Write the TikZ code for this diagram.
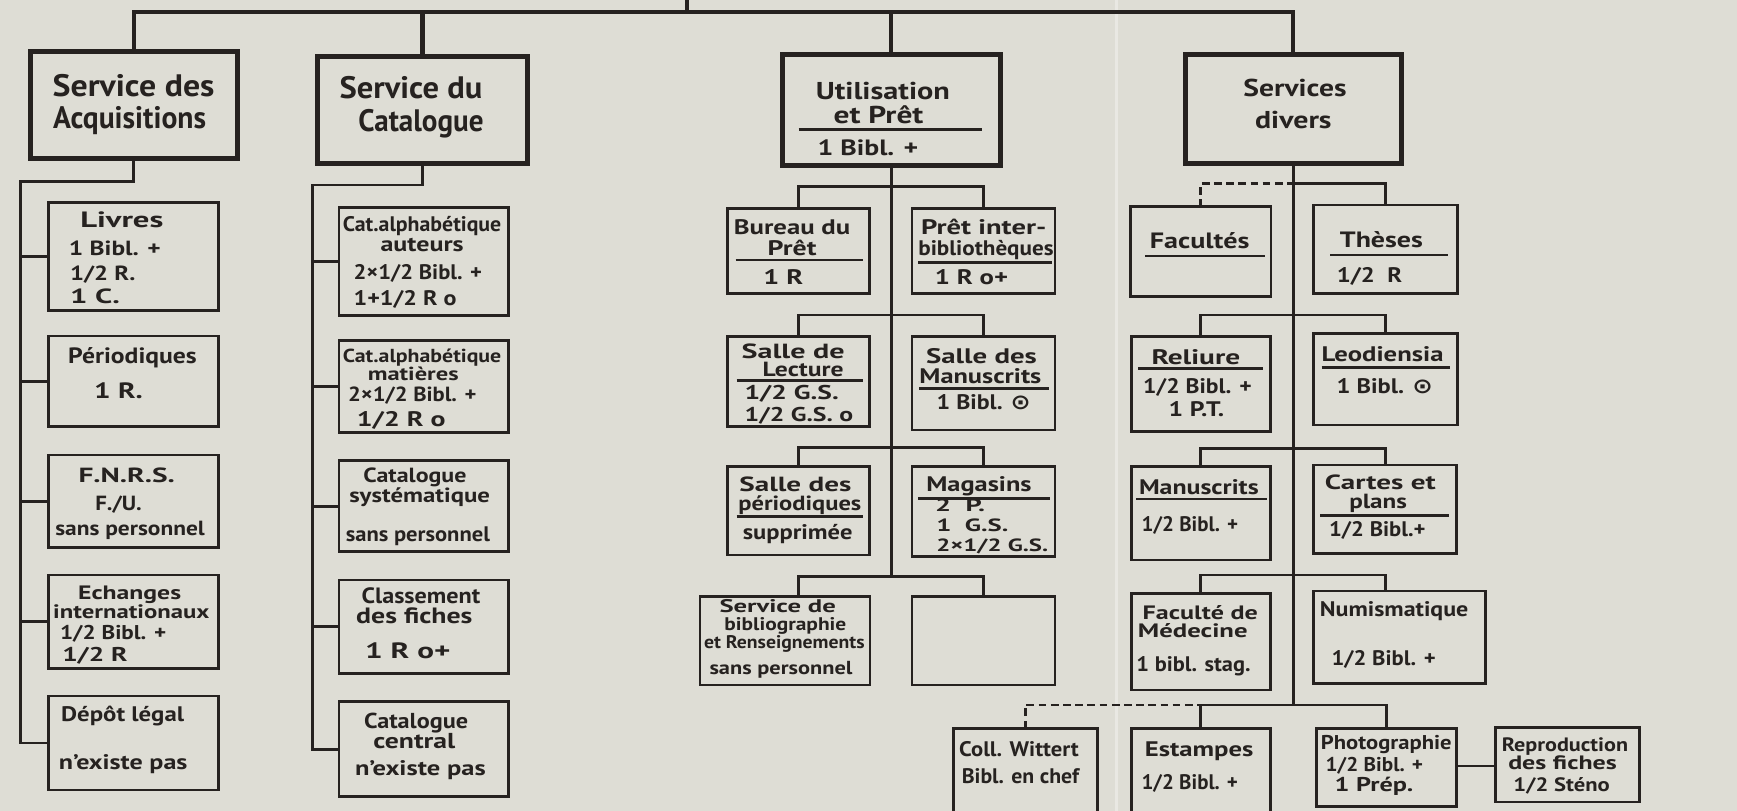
\documentclass[tikz,border=0pt]{standalone}
\usepackage{graphicx}
\usepackage{fontspec}
\setmainfont{PT Sans}
\newfontfamily\symfont{DejaVu Sans}
\definecolor{paper}{RGB}{222,221,213}
\definecolor{ink}{RGB}{38,34,32}
\newcommand\fs[1]{\fontsize{#1}{#1}\selectfont\bfseries}
\newcounter{tn}
% \tx[anchor style]{x,baseline y}{font size}{width}{text}
\newcommand\tx[5][tc]{\stepcounter{tn}\node[#1, font=\fs{#3}] (txt\arabic{tn}) at (#2) {\resizebox{#4pt}{\height}{#5}};}
\newcommand\sepl[3]{\draw[sepline] (#1,#3) -- (#2,#3);}
\newcommand\mybox[6][sbox]{\node[#1, minimum width={(#5-#3)*1pt}, minimum height={(#6-#4)*1pt}] (#2) at (#3,#4) {};}
\newcommand\cdotsym{{\symfont\bfseries ⊙}}
\tikzset{
  mainbox/.style={draw=ink, line width=4.5pt, inner sep=0pt, outer sep=0pt, anchor=north west},
  sbox/.style={draw=ink, line width=2.6pt, inner sep=0pt, outer sep=0pt, anchor=north west},
  conn/.style={draw=ink, line width=2.6pt, line join=miter},
  topline/.style={draw=ink, line width=3.8pt, line join=miter},
  dashconn/.style={conn, dash pattern=on 7pt off 4pt},
  sepline/.style={draw=ink, line width=2.2pt},
  tc/.style={anchor=base, inner sep=0pt, text=ink},
  tl/.style={anchor=base west, inner sep=0pt, text=ink},
}
\begin{document}
\begin{tikzpicture}[x=1pt,y=-1pt]
\fill[paper] (0,0) rectangle (1568,732);
\useasboundingbox (0,0) rectangle (1568,732);
\draw[white, opacity=0.35, line width=2.5pt] (1008,0) -- (1008,732);

% ---------- level 1 ----------
\mybox[mainbox]{acq}{27.4}{46.6}{214.4}{142.9}
\mybox[mainbox]{cat}{286.3}{50.6}{476.5}{147.4}
\mybox[mainbox]{util}{706.5}{49.6}{902.7}{149.8}
\mybox[mainbox]{div}{1069.7}{49.6}{1265.3}{147.4}

\coordinate (t0) at (620,0);
\coordinate (t1) at (620,10.5);
\draw[topline] (t0) -- (t1);
\draw[topline] (acq.north) |- (t1) -| (div.north);
\draw[topline] (cat.north) -- (cat.north |- t1);
\draw[topline] (util.north) -- (util.north |- t1);

\tx{120.6,87.3}{28}{146}{Service des}
\tx{117,115.8}{28}{138}{Acquisitions}
\tx{371,88.8}{28}{129}{Service du}
\tx{380,118.9}{28}{113}{Catalogue}
\tx{797,90}{22}{121}{Utilisation}
\tx{793,111.3}{22}{81}{et Prêt}
\sepl{721}{886}{116.7}
\tx{783.5,140}{20}{91}{1 Bibl. +}
\tx{1169,87.3}{22}{93}{Services}
\tx{1167.5,115.8}{22}{69}{divers}

% ---------- Acquisitions ----------
\mybox{livres}{43.6}{183}{197}{280.5}
\mybox{perio}{43.6}{303.3}{197}{385.2}
\mybox{fnrs}{43.6}{410.7}{197}{494}
\mybox{echanges}{43.6}{519}{197}{603.3}
\mybox{depot}{43.6}{628.3}{197}{713.1}
\coordinate (a0) at (18.7,164);
\draw[conn] (acq.south) |- (a0) -- (a0 |- depot.west) -- (depot.west);
\draw[conn] (a0 |- livres.west) -- (livres.west);
\draw[conn] (a0 |- perio.west) -- (perio.west);
\draw[conn] (a0 |- fnrs.west) -- (fnrs.west);
\draw[conn] (a0 |- echanges.west) -- (echanges.west);

\tx{110,205}{20}{75}{Livres}
\tx[tl]{62,231}{18.5}{83}{1 Bibl. +}
\tx[tl]{63,253.3}{18.5}{59}{1/2 R.}
\tx[tl]{63,274.4}{18.5}{45}{1 C.}
\tx{119.6,328}{20}{116}{Périodiques}
\tx{107,359.6}{20}{44}{1 R.}
\tx{114.4,435.7}{18.5}{87}{F.N.R.S.}
\tx{107,461}{18.5}{42}{F./U.}
\tx{117.4,483}{18.5}{135}{sans personnel}
\tx{117,541}{17.5}{93}{Echanges}
\tx{118.5,558.2}{17.5}{141}{internationaux}
\tx[tl]{54,577.1}{18}{96}{1/2 Bibl. +}
\tx[tl]{56,597.3}{18}{59}{1/2 R}
\tx[tl]{55,651.4}{19}{111}{Dépôt légal}
\tx[tl]{53,695}{19}{116}{n'existe pas}

% ---------- Catalogue ----------
\mybox{auteurs}{306}{187}{459}{284.4}
\mybox{matieres}{306}{307.5}{459}{390.3}
\mybox{syst}{306}{415.8}{459}{498}
\mybox{classement}{306}{523.6}{459}{607.8}
\mybox{central}{306}{633.4}{459}{719.2}
\coordinate (c0) at (282,167);
\draw[conn] (cat.south) |- (c0) -- (c0 |- central.west) -- (central.west);
\draw[conn] (c0 |- auteurs.west) -- (auteurs.west);
\draw[conn] (c0 |- matieres.west) -- (matieres.west);
\draw[conn] (c0 |- syst.west) -- (syst.west);
\draw[conn] (c0 |- classement.west) -- (classement.west);

\tx{381,209.1}{19}{143}{Cat.alphabétique}
\tx{381,227.2}{19}{75}{auteurs}
\tx[tl]{319,252.2}{19}{116}{2×1/2 Bibl. +}
\tx[tl]{319,276.2}{19}{93}{1+1/2 R o}
\tx{381,327}{17}{143}{Cat.alphabétique}
\tx{373,343.5}{17}{82}{matières}
\tx[tl]{314,362}{18.5}{116}{2×1/2 Bibl. +}
\tx[tl]{322,385.2}{19}{80}{1/2 R o}
\tx{374.6,435.7}{18.5}{93}{Catalogue}
\tx{378.8,453.4}{18.5}{127}{systématique}
\tx[tl]{312,489}{19}{130}{sans personnel}
\tx{380,545.2}{20}{107}{Classement}
\tx{374,562.7}{20}{105}{des fiches}
\tx[tl]{329.5,594.3}{20}{77}{1 R o+}
\tx{375.6,657.5}{19.5}{94}{Catalogue}
\tx{374,675.5}{19.5}{74}{central}
\tx{379.5,699.6}{19}{118}{n'existe pas}

% ---------- Utilisation ----------
\mybox{bureau}{657}{188}{784.5}{264.8}
\mybox{pretinter}{823.3}{188}{952.3}{264.8}
\mybox{lecture}{657}{303.9}{784.5}{385.2}
\mybox{salleman}{823.3}{303.9}{952.3}{388.2}
\mybox{salleper}{657}{421.3}{784.5}{501}
\mybox{magasins}{823.3}{421.3}{952.3}{502.5}
\mybox{biblio}{631.9}{538.6}{785.3}{618.3}
\mybox{vide}{823.3}{538.6}{952.3}{618.3}
\coordinate (u1) at (util.south |- 0,168.5);
\coordinate (u2) at (util.south |- 0,284.3);
\coordinate (u3) at (util.south |- 0,404.1);
\coordinate (u4) at (util.south |- 0,520.6);
\draw[conn] (util.south) -- (u4);
\draw[conn] (bureau.north) |- (u1) -| (pretinter.north);
\draw[conn] (lecture.north) |- (u2) -| (salleman.north);
\draw[conn] (salleper.north) |- (u3) -| (magasins.north);
\draw[conn] (bureau.north |- biblio.north) |- (u4) -| (vide.north);

\tx{715,212.1}{19}{105}{Bureau du}
\tx{715,230.2}{19}{44}{Prêt}
\sepl{664}{779}{234.7}
\tx{707,256.4}{19}{36}{1 R}
\tx{888,212.1}{19}{113}{Prêt inter-}
\tx{890,230.2}{19}{122}{bibliothèques}
\sepl{829}{950}{236.8}
\tx{877,256.4}{19}{66}{1 R o+}
\tx{716,323.5}{18.5}{93}{Salle de}
\tx{725,340}{18.5}{73}{Lecture}
\sepl{665}{779}{343.5}
\tx[tl]{672,361}{18}{85}{1/2 G.S.}
\tx[tl]{672,380.6}{18}{98}{1/2 G.S. o}
\tx{886,328}{19}{100}{Salle des}
\tx{885,346}{19}{110}{Manuscrits}
\sepl{830}{947}{350.5}
\tx{888,370}{19}{85}{1 Bibl. \cdotsym}
\tx{718,443.8}{18.5}{101}{Salle des}
\tx{722,460.4}{18.5}{111}{périodiques}
\sepl{665}{779}{466.4}
\tx{720,486.8}{19}{99}{supprimée}
\tx[tl]{836,443.8}{19}{95}{Magasins}
\sepl{829}{948}{449.8}
\tx[tl]{844,461.9}{16}{45}{2 \ P.}
\tx[tl]{845,480}{16}{65}{1 \ G.S.}
\tx[tl]{845,498}{16}{101}{2×1/2 G.S.}
\tx{702,552.7}{16.5}{105}{Service de}
\tx{709,568.7}{16.5}{110}{bibliographie}
\tx{708,585.2}{16.5}{145}{et Renseignements}
\tx{705,609.3}{17}{129}{sans personnel}

% ---------- Services divers ----------
\mybox{facultes}{1020.6}{186.6}{1147.3}{267.8}
\mybox{theses}{1186}{185}{1315.8}{264.8}
\mybox{reliure}{1021}{303.9}{1147}{389.7}
\mybox{leod}{1186}{300.9}{1316}{383.6}
\mybox{manus}{1021}{421}{1146.5}{505.5}
\mybox{cartes}{1185.6}{419.8}{1315}{499.5}
\mybox{medecine}{1021}{535.6}{1146.5}{622.9}
\mybox{numis}{1185.6}{533.5}{1340.9}{616.8}
\mybox{wittert}{861}{657.5}{990.4}{745}
\mybox{estampes}{1021}{657.5}{1146.5}{745}
\mybox{photo}{1188}{657.5}{1315}{728.2}
\mybox{repro}{1350}{657}{1480}{724}
\coordinate (d1) at (div.south |- 0,165.5);
\coordinate (d2) at (div.south |- 0,284.3);
\coordinate (d3) at (div.south |- 0,404.7);
\coordinate (d4) at (div.south |- 0,519);
\coordinate (d5) at (div.south |- 0,636.4);
\draw[conn] (div.south) -- (d5);
\draw[dashconn] (facultes.north) |- (d1);
\draw[conn] (d1) -| (theses.north);
\draw[conn] (reliure.north) |- (d2) -| (leod.north);
\draw[conn] (manus.north) |- (d3) -| (cartes.north);
\draw[conn] (medecine.north) |- (d4) -| (cartes.south |- numis.north);
\draw[dashconn] (wittert.north) |- (estampes.north |- d5);
\draw[conn] (estampes.north) |- (d5) -| (photo.north);
\draw[conn] (photo.east |- 0,691.5) -- (repro.west |- 0,691.5);

\tx{1083,224.2}{20}{90}{Facultés}
\sepl{1033.6}{1142}{231.1}
\tx{1247,223.3}{20}{75}{Thèses}
\sepl{1200.6}{1307.4}{230.2}
\tx[tl]{1206.6,255.2}{19}{59}{1/2 \ R}
\tx{1079.5,328.6}{19}{80}{Reliure}
\sepl{1027.6}{1140.4}{332.5}
\tx{1081,355}{19}{98}{1/2 Bibl. +}
\tx{1080,376}{19}{50}{1 P.T.}
\tx{1248,326.5}{19}{110}{Leodiensia}
\sepl{1193}{1309}{331.6}
\tx{1250,355}{19}{87}{1 Bibl. \cdotsym}
\tx[tl]{1028,446.8}{19}{108}{Manuscrits}
\sepl{1025.6}{1143.3}{450.5}
\tx[tl]{1030.4,480}{19}{87}{1/2 Bibl. +}
\tx{1246,442.3}{18.5}{100}{Cartes et}
\tx{1244,458.9}{18.5}{52}{plans}
\sepl{1191.8}{1308}{465.5}
\tx[tl]{1199.6,484.5}{19}{87}{1/2 Bibl.+}
\tx{1083.5,559}{17.5}{104}{Faculté de}
\tx[tl]{1027,575.8}{17.5}{99}{Médecine}
\tx[tl]{1025.7,606.3}{19}{103}{1 bibl. stag.}
\tx{1258.5,556.7}{19}{134}{Numismatique}
\tx{1249,600.3}{19}{94}{1/2 Bibl. +}
\tx[tl]{865.7,683}{19}{108}{Coll. Wittert}
\tx[tl]{868,707}{19}{106}{Bibl. en chef}
\tx{1082.5,683}{19}{98}{Estampes}
\tx{1074,713}{19}{87}{1/2 Bibl. +}
\tx{1251.4,677}{18}{118}{Photographie}
\tx[tl]{1196.4,696.6}{18}{88}{1/2 Bibl. +}
\tx[tl]{1204.5,714.6}{18}{71}{1 Prép.}
\tx{1412.7,678.5}{17.5}{114}{Reproduction}
\tx{1410.5,695}{17.5}{98}{des fiches}
\tx{1409.7,714.6}{17.5}{87}{1/2 Sténo}
\end{tikzpicture}
\end{document}
